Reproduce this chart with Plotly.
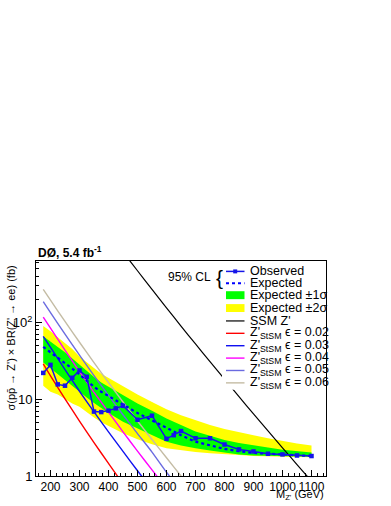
import plotly.graph_objects as go

# ---------------- data ----------------
mass_band = [175, 200, 225, 250, 275, 300, 325, 350, 375, 400, 450, 500, 550, 600,
             650, 700, 750, 800, 850, 900, 950, 1000, 1050, 1100]
expected = [48, 41, 35, 30, 25, 21, 17.5, 14.5, 12.5, 11, 8.4, 6.6, 5.3, 4.2,
            3.4, 2.8, 2.5, 2.25, 2.1, 2.0, 1.95, 1.9, 1.85, 1.82]
green_hi = [66, 57, 48, 41, 34, 28, 23.5, 19.5, 16.5, 14.5, 11.2, 8.8, 7.1, 5.6,
            4.6, 3.8, 3.35, 2.95, 2.7, 2.5, 2.35, 2.2, 2.1, 2.02]
green_lo = [30, 25, 21, 18, 15, 12.5, 10.5, 8.9, 7.6, 6.6, 5.1, 4.1, 3.4, 2.8,
            2.5, 2.3, 2.15, 2.0, 1.9, 1.85, 1.82, 1.8, 1.79, 1.78]
yellow_hi = [90, 77, 64, 54, 45, 36, 30, 25.5, 21.5, 19, 14.5, 11.5, 9.2, 7.4,
             6.2, 5.3, 4.6, 4.1, 3.7, 3.4, 3.1, 2.85, 2.65, 2.5]
yellow_lo = [15, 12.5, 11.5, 10, 8.8, 8, 6.8, 5.8, 5.0, 4.5, 3.6, 3.0, 2.6, 2.3,
             2.15, 2.05, 1.98, 1.92, 1.88, 1.82, 1.8, 1.78, 1.77, 1.76]

mass_obs = [175, 200, 225, 250, 275, 300, 325, 350, 375, 400, 425, 450, 500, 550,
            600, 625, 650, 700, 750, 800, 850, 900, 950, 1000, 1050, 1100]
observed = [22, 28, 15.6, 15, 19, 23.7, 19.6, 6.9, 6.8, 7.1, 7.6, 8.2, 5.4, 6.1,
            3.05, 3.4, 3.85, 3.1, 3.1, 2.57, 2.22, 2.09, 1.95, 1.91, 1.85, 1.82]

mass_ssm = [400, 450, 500, 550, 600, 650, 700, 750, 800, 850, 900, 950, 1000, 1050, 1100, 1150]
ssm = [1480, 828, 471, 269, 155, 89.7, 52.4, 30.8, 18.2, 10.8, 6.44, 3.86, 2.33, 1.41, 0.857, 0.53]

mass_stsm = [175, 200, 250, 300, 350, 400, 450, 500, 550, 600, 650, 700]
stsm_002 = [28.8, 20.2, 10.1, 5.19, 2.72, 1.46, 0.79, 0.45, None, None, None, None]
stsm_003 = [66, 47.3, 24.3, 12.7, 6.84, 3.76, 2.09, 1.17, 0.67, None, None, None]
stsm_004 = [117, 84, 43.7, 22.9, 12.3, 6.8, 3.76, 2.11, 1.2, 0.69, None, None]
stsm_005 = [186, 134, 70.4, 37.5, 20.3, 11.2, 6.27, 3.57, 2.05, 1.12, 0.65, None]
stsm_006 = [269, 195, 103, 55.2, 30, 16.5, 9.2, 5.2, 2.99, 1.73, 1.0, 0.59]

x_ticks = [200, 300, 400, 500, 600, 700, 800, 900, 1000, 1100]
y_ticks = [1, 10, 100]
y_ticktext = ["1", "10", "10<sup>2</sup>"]
y_minor = [2, 3, 4, 5, 6, 7, 8, 9, 20, 30, 40, 50, 60, 70, 80, 90, 200, 300, 400, 500, 600]

stsm_labels = ["0.02", "0.03", "0.04", "0.05", "0.06"]
stsm_colors = ["#ff0000", "#1010f0", "#ff00ff", "#6a6ae0", "#c4bca4"]

# ---------------- figure ----------------
FONT = "Liberation Sans, Arial, Helvetica, sans-serif"
W, H = 391, 506
L, R, T, B = 36, 65, 261, 28
PW, PH = W - L - R, H - T - B


def xp(px):
    return (px - L) / PW


def yp(py):
    return (T + PH - py) / PH


fig = go.Figure()

# yellow band
fig.add_trace(go.Scatter(x=mass_band + mass_band[::-1], y=yellow_hi + yellow_lo[::-1],
                         fill="toself", fillcolor="#ffff00", line=dict(width=0),
                         mode="lines", hoverinfo="skip", showlegend=False))
# green band
fig.add_trace(go.Scatter(x=mass_band + mass_band[::-1], y=green_hi + green_lo[::-1],
                         fill="toself", fillcolor="#00ff00", line=dict(width=0),
                         mode="lines", hoverinfo="skip", showlegend=False))

# theory curves
for vals, col in zip([stsm_002, stsm_003, stsm_004, stsm_005, stsm_006], stsm_colors):
    fig.add_trace(go.Scatter(x=mass_stsm, y=vals, mode="lines",
                             line=dict(color=col, width=1.4, shape="spline", smoothing=0.6),
                             showlegend=False))
fig.add_trace(go.Scatter(x=mass_ssm, y=ssm, mode="lines",
                         line=dict(color="black", width=1.2, shape="spline", smoothing=0.6),
                         showlegend=False))

# expected
fig.add_trace(go.Scatter(x=mass_band, y=expected, mode="lines",
                         line=dict(color="#0000ff", width=2.2, dash="dot"),
                         showlegend=False))
# observed
fig.add_trace(go.Scatter(x=mass_obs, y=observed, mode="lines+markers",
                         line=dict(color="#1515e8", width=1.5),
                         marker=dict(symbol="square", size=4.5, color="#1515e8"),
                         showlegend=False))

shapes = []
annotations = []

# legend white box
shapes.append(dict(type="rect", xref="paper", yref="paper", layer="above",
                   x0=xp(222), x1=xp(325.4), y0=yp(391), y1=yp(262),
                   fillcolor="white", line=dict(width=0)))

sx0, sx1 = xp(226), xp(244.5)
tx = xp(247.5)
rows = [271.5, 283.5, 295.5, 308.5, 321.5, 334, 346.5, 359, 371.5, 384]

# Observed
shapes.append(dict(type="line", xref="paper", yref="paper", layer="above",
                   x0=sx0, x1=sx1, y0=yp(rows[0]), y1=yp(rows[0]),
                   line=dict(color="#1515e8", width=1.5)))
shapes.append(dict(type="rect", xref="paper", yref="paper", layer="above",
                   x0=xp(233.2), x1=xp(237.2), y0=yp(rows[0] + 2), y1=yp(rows[0] - 2),
                   fillcolor="#1515e8", line=dict(width=0)))
# Expected
shapes.append(dict(type="line", xref="paper", yref="paper", layer="above",
                   x0=sx0, x1=sx1, y0=yp(rows[1]), y1=yp(rows[1]),
                   line=dict(color="#0000ff", width=2, dash="dot")))
# bands
shapes.append(dict(type="rect", xref="paper", yref="paper", layer="above",
                   x0=sx0, x1=sx1, y0=yp(rows[2] + 4), y1=yp(rows[2] - 4),
                   fillcolor="#00ff00", line=dict(width=0)))
shapes.append(dict(type="rect", xref="paper", yref="paper", layer="above",
                   x0=sx0, x1=sx1, y0=yp(rows[3] + 4), y1=yp(rows[3] - 4),
                   fillcolor="#ffff00", line=dict(width=0)))
# SSM
shapes.append(dict(type="line", xref="paper", yref="paper", layer="above",
                   x0=sx0, x1=sx1, y0=yp(rows[4]), y1=yp(rows[4]),
                   line=dict(color="black", width=1.2)))
for i, col in enumerate(stsm_colors):
    r = rows[5 + i]
    shapes.append(dict(type="line", xref="paper", yref="paper", layer="above",
                       x0=sx0, x1=sx1, y0=yp(r), y1=yp(r),
                       line=dict(color=col, width=1.4)))

leg_texts = ["Observed", "Expected", "Expected ±1σ", "Expected ±2σ", "SSM Z'"]
for i, t in enumerate(leg_texts):
    annotations.append(dict(text=t, xref="paper", yref="paper", x=tx, y=yp(rows[i]),
                            xanchor="left", yanchor="middle", showarrow=False,
                            font=dict(size=12.5, color="black", family=FONT)))
for i, lab in enumerate(stsm_labels):
    txt = "Z'<sub>StSM</sub> ϵ = " + lab
    annotations.append(dict(text=txt, xref="paper", yref="paper", x=tx, y=yp(rows[5 + i]),
                            xanchor="left", yanchor="middle", showarrow=False,
                            font=dict(size=12.5, color="black", family=FONT)))

annotations.append(dict(text="95% CL", xref="paper", yref="paper", x=xp(213), y=yp(277.5),
                        xanchor="right", yanchor="middle", showarrow=False,
                        font=dict(size=12, color="black", family=FONT)))
annotations.append(dict(text="{", xref="paper", yref="paper", x=xp(219.5), y=yp(278),
                        xanchor="center", yanchor="middle", showarrow=False,
                        font=dict(size=21, color="black", family=FONT)))

# header
annotations.append(dict(text="<b>DØ, 5.4 fb<sup>-1</sup></b>", xref="paper", yref="paper",
                        x=0, y=yp(262.5), xanchor="left", yanchor="bottom", showarrow=False,
                        font=dict(size=12, color="black", family=FONT)))
# axis titles
annotations.append(dict(text="σ(pp̄ → Z') × BR(Z' → ee) (fb)", xref="paper", yref="paper",
                        x=xp(11), y=yp(264), xanchor="center", yanchor="top", textangle=-90,
                        showarrow=False, font=dict(size=11, color="black", family=FONT)))
annotations.append(dict(text="M<sub>Z'</sub> (GeV)", xref="paper", yref="paper",
                        x=1, y=yp(506), xanchor="right", yanchor="bottom", showarrow=False,
                        font=dict(size=11, color="black", family=FONT)))

fig.update_layout(
    width=W, height=H,
    margin=dict(l=L, r=R, t=T, b=B, pad=0),
    paper_bgcolor="white", plot_bgcolor="white",
    showlegend=False,
    font=dict(family=FONT, color="black"),
    shapes=shapes, annotations=annotations,
    xaxis=dict(range=[150, 1150], tickmode="array", tickvals=x_ticks, tickangle=0,
               ticks="inside", ticklen=6, tickwidth=1, tickcolor="black",
               minor=dict(ticks="inside", ticklen=3, tick0=0, dtick=20, tickcolor="black"),
               showline=True, linecolor="black", linewidth=1, mirror=True,
               showgrid=False, zeroline=False,
               tickfont=dict(size=12, family=FONT, color="black")),
    yaxis=dict(type="log", range=[0, 2.8], tickmode="array", tickvals=y_ticks,
               ticktext=y_ticktext,
               ticks="inside", ticklen=6, tickwidth=1, tickcolor="black",
               minor=dict(ticks="inside", ticklen=3, tickmode="array", tickvals=y_minor,
                          tickcolor="black"),
               showline=True, linecolor="black", linewidth=1, mirror=True,
               showgrid=False, zeroline=False,
               tickfont=dict(size=13, family=FONT, color="black")),
)

fig.write_html("out.html", config={"displayModeBar": False},
               post_script="document.body.style.margin='0';document.body.style.overflow='hidden';")
